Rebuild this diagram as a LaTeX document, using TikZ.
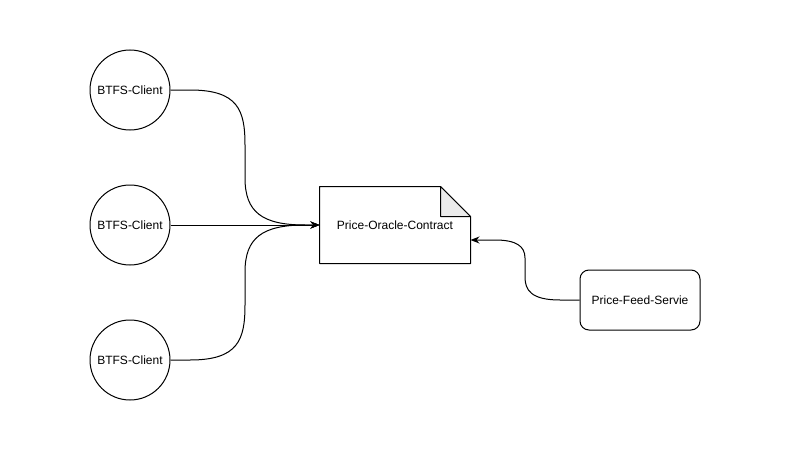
\documentclass[tikz,border=0pt]{standalone}
\usepackage{fontspec}
\setmainfont{Liberation Sans}
\usetikzlibrary{arrows.meta}
\begin{document}
\begin{tikzpicture}[x=1pt,y=-1pt,line width=1pt,font=\fontsize{12}{14}\selectfont,
        client/.style={draw,circle,minimum size=80pt,inner sep=0pt},
        contractbox/.style={minimum width=150pt,minimum height=76pt,inner sep=0pt},
        feedbox/.style={draw,rounded corners=9pt,minimum width=120pt,minimum height=60pt},
        link/.style={-{Stealth[length=9pt,width=7pt]}}]
        \useasboundingbox (0,0) rectangle (801,471); % fix page size
        \node[client] (c1) at (130,90) {BTFS-Client};
        \node[client] (c2) at (130,225) {BTFS-Client};
        \node[client] (c3) at (130,360) {BTFS-Client};
        \node[contractbox] (contract) at (395,225) {Price-Oracle-Contract};
        \node[feedbox] (feed) at (640,300) {Price-Feed-Servie};
        % document outline with folded corner
        \draw[line join=round] (contract.north west) -- ([xshift=-30pt]contract.north east)
            -- ([yshift=-30pt]contract.north east) -- (contract.south east)
            -- (contract.south west) -- cycle;
        \draw[fill=black!8,line join=round] ([xshift=-30pt]contract.north east)
            -- ([xshift=-30pt,yshift=-30pt]contract.north east)
            -- ([yshift=-30pt]contract.north east) -- cycle;
        % connectors
        \draw[link] (c1.east) -- (190,90) .. controls (238,90) and (245,110) .. (245,145)
            -- (245,178) .. controls (245,212) and (262,225) .. (305,225) -- (contract.west);
        \draw[link] (c2.east) -- (contract.west);
        \draw[link] (c3.east) -- (190,360) .. controls (238,360) and (245,340) .. (245,305)
            -- (245,272) .. controls (245,238) and (262,225) .. (305,225) -- (contract.west);
        \draw[link] (feed.west) -- (560,300) .. controls (531,300) and (525,290) .. (525,277)
            -- (525,258) .. controls (525,246) and (516,240) .. (495,240)
            -- ([yshift=-15pt]contract.east);
    \end{tikzpicture}
\end{document}
